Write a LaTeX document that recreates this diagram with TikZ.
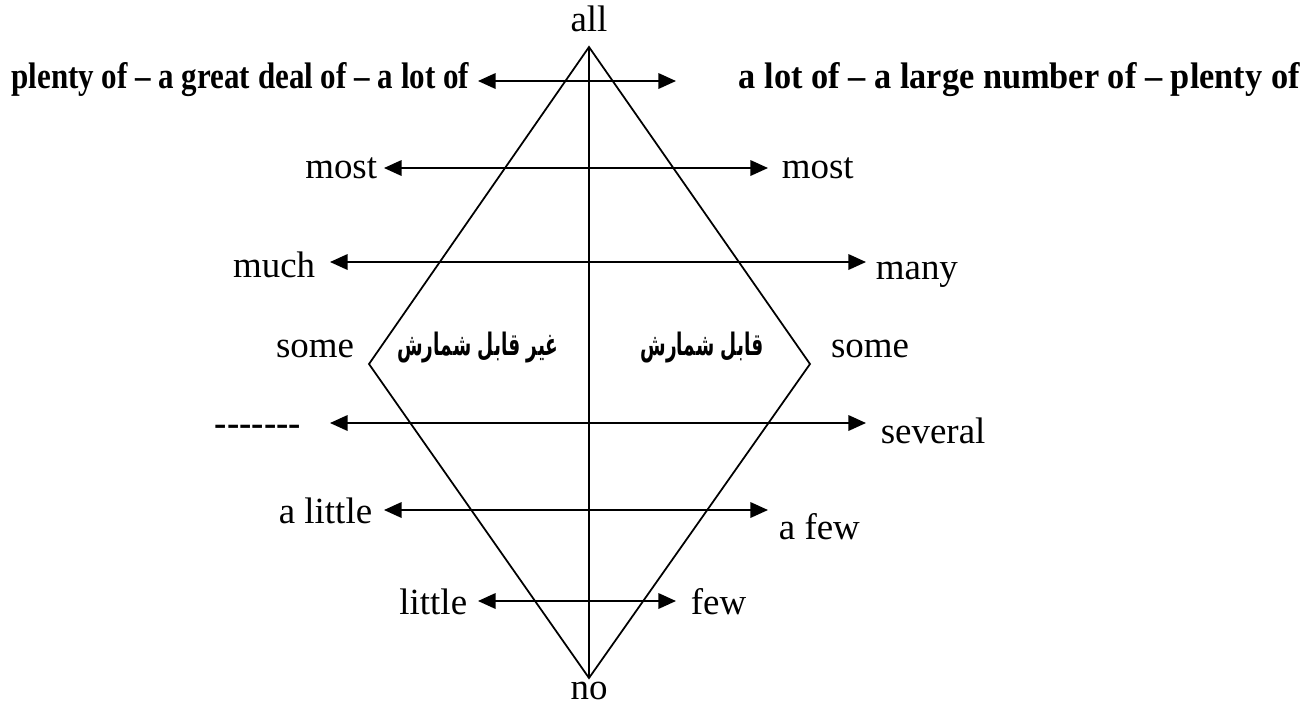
\documentclass[tikz,border=0pt]{standalone}
\usepackage{fontspec}
\setmainfont{Liberation Serif}
\newfontfamily\narrowbf[FakeStretch=0.84]{Liberation Serif}
\newfontfamily\widebf[FakeStretch=0.93]{Liberation Serif}
\newfontfamily\farsifont[Script=Arabic,FakeStretch=0.6]{DejaVu Sans}
\TeXXeTstate=1
\usetikzlibrary{arrows.meta}

\tikzset{
  word/.style={inner sep=0pt, font=\fontsize{10.5}{12}\selectfont},
  phrase/.style={inner sep=0pt, font=\fontsize{10.5}{12}\selectfont\narrowbf\bfseries},
  phrasewide/.style={inner sep=0pt, font=\fontsize{10.5}{12}\selectfont\widebf\bfseries},
  farsi/.style={inner sep=0pt, font=\fontsize{8.8}{10}\selectfont\farsifont\bfseries},
  both/.style={{Triangle[length=5pt,width=4.4pt]}-{Triangle[length=5pt,width=4.4pt]}, line width=0.55pt}
}

\begin{document}
\begin{tikzpicture}[
    x=0.01cm,
    y=-0.01cm,
    line width=0.5pt
  ]
    \useasboundingbox (0,0) rectangle (1314,705);

    % Rombo con eje vertical
    \coordinate (top) at (589,47);
    \coordinate (bot) at (589,678);
    \coordinate (lft) at (369,364);
    \coordinate (rgt) at (810,364);
    \draw (top) -- (rgt) -- (bot) -- (lft) -- cycle;
    \draw (top) -- (bot);

    \node[word] (all) at (589,19) {all};
    \node[word] (no) at (589,691) {no};

    % --- plenty of / a lot of ---
    \node[phrase, anchor=east] (plentyL) at (470,80) {plenty of – a great deal of – a lot of};
    \node[phrasewide, anchor=west] (plentyR) at (738,80) {a lot of – a large number of – plenty of};
    \coordinate (a1) at (478,81);
    \coordinate (b1) at (676,81);
    \draw[both] (a1) -- (b1);

    % --- most ---
    \node[word, anchor=east] (mostL) at (378,168) {most};
    \node[word, anchor=west] (mostR) at (781,168) {most};
    \coordinate (a2) at (384,168);
    \coordinate (b2) at (768,168);
    \draw[both] (a2) -- (b2);

    % --- much / many ---
    \node[word, anchor=east] (much) at (316,265) {much};
    \node[word, anchor=west] (many) at (875,275) {many};
    \coordinate (a3) at (330,262);
    \coordinate (b3) at (866,262);
    \draw[both] (a3) -- (b3);

    % --- some ---
    \node[word] (someL) at (315,349) {some};
    \node[word] (someR) at (870,349) {some};
    \node[farsi] (uncount) at (478,348) {\beginR غیر قابل شمارش\endR};
    \node[farsi] (count) at (702,348) {\beginR قابل شمارش\endR};

    % --- several ---
    \node[word, font=\fontsize{10.5}{12}\selectfont\bfseries, anchor=west] (dashes) at (214,430) {-{}-{}-{}-{}-{}-{}-};
    \node[word, anchor=west] (several) at (880,431) {several};
    \coordinate (a5) at (330,423);
    \coordinate (b5) at (866,423);
    \draw[both] (a5) -- (b5);

    % --- a little / a few ---
    \node[word, anchor=east] (alittle) at (373,511) {a little};
    \node[word, anchor=west] (afew) at (778,527) {a few};
    \coordinate (a6) at (384,510);
    \coordinate (b6) at (768,510);
    \draw[both] (a6) -- (b6);

    % --- little / few ---
    \node[word, anchor=east] (little) at (468,602) {little};
    \node[word, anchor=west] (few) at (690,602) {few};
    \coordinate (a7) at (478,601);
    \coordinate (b7) at (676,601);
    \draw[both] (a7) -- (b7);
  \end{tikzpicture}
\end{document}
